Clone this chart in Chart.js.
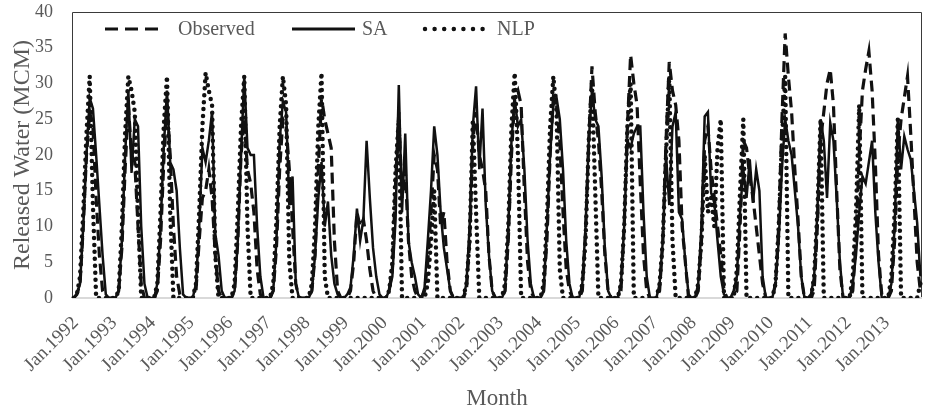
<!DOCTYPE html>
<html>
<head>
<meta charset="utf-8">
<script src="https://cdn.jsdelivr.net/npm/chart.js@4.4.1/dist/chart.umd.min.js"></script>
<style>
  html, body { margin: 0; padding: 0; background: #fff; }
  #wrap { width: 926px; height: 413px; position: relative; }
</style>
</head>
<body>
<div id="wrap"><canvas id="release-chart"></canvas></div>
<script>
// data (monthly releases, MCM)
const years = [1992, 1993, 1994, 1995, 1996, 1997, 1998, 1999, 2000, 2001, 2002,
  2003, 2004, 2005, 2006, 2007, 2008, 2009, 2010, 2011, 2012, 2013]
const monthNames = ['Jan', 'Feb', 'Mar', 'Apr', 'May', 'Jun', 'Jul', 'Aug', 'Sep', 'Oct', 'Nov', 'Dec']

const observed = [
  0, 0.5, 2, 10, 20, 26, 24, 14, 6, 1, 0, 0, // 1992
  0, 0, 1, 7, 18, 27, 20, 19, 10, 2, 0, 0, // 1993
  0, 0, 1, 8, 19, 27, 20, 10, 3, 0.5, 0, 0, // 1994
  0, 0, 1, 8, 14, 15, 18, 14, 6, 1, 0, 0, // 1995
  0, 0, 1, 8, 20, 25, 18, 16, 12, 4, 0.5, 0, // 1996
  0, 0, 1, 7, 18, 25, 24, 18, 10, 2, 0, 0, // 1997
  0, 0, 1, 6, 18, 28, 25, 23, 21, 8, 1, 0, // 1998
  0, 0, 1, 5, 12, 10, 11, 8, 4, 1, 0, 0, // 1999
  0, 0, 1, 4, 16, 26, 14, 18, 8, 3, 1, 0, // 2000
  0, 1, 5, 12, 20, 18, 10, 12, 5, 1, 0, 0, // 2001
  0, 0, 1, 8, 22, 26, 20, 18, 15, 6, 1, 0, // 2002
  0, 0, 1, 8, 20, 28, 29, 27, 15, 5, 1, 0, // 2003
  0, 0, 1, 8, 20, 28, 27, 22, 12, 4, 1, 0, // 2004
  0, 0, 1, 9, 22, 32.4, 26, 22, 15, 6, 1, 0, // 2005
  0, 0, 1, 10, 24, 34, 30, 27, 16, 6, 1, 0, // 2006
  0, 0, 1, 8, 22, 33, 29, 27, 22, 10, 5, 0, // 2007
  0, 0, 1, 8, 22, 24, 18, 14, 10, 6, 1, 0, // 2008
  0, 0, 1, 10, 22, 21, 17, 14, 10, 6, 2, 0, // 2009
  0, 0, 2, 10, 25, 37, 31, 26, 18, 11, 3, 0, // 2010
  0, 0, 1, 10, 22, 26, 30, 32, 27, 15, 4, 0, // 2011
  0, 0, 1, 8, 20, 29, 32, 34.5, 29, 19, 6, 0.5, // 2012
  0, 0, 1, 8, 20, 25, 28, 31, 23, 14, 5, 1, // 2013
]

const sa = [
  0, 0.5, 2, 10, 20, 28, 26.5, 20, 13, 6, 0.5, 0, // 1992
  0, 0, 1, 8, 20, 29, 17.5, 25, 24, 10, 2, 0, // 1993
  0, 0, 2, 10, 21, 29, 19, 18, 15, 7, 0.5, 0, // 1994
  0, 0, 2, 10, 21, 19, 22, 26, 9, 6, 1, 0, // 1995
  0, 0, 1, 8, 20, 31, 21, 20, 20, 10, 3, 0, // 1996
  0, 0, 1, 8, 22, 27.5, 26, 13, 17, 2, 0, 0, // 1997
  0, 0, 1, 6, 14, 19, 10, 13.5, 6, 2, 0.5, 0, // 1998
  0, 0.5, 1.5, 6, 12.5, 8, 11, 22, 14, 7, 3, 0.5, // 1999
  0, 0, 1, 3, 11, 29.8, 12, 23, 8, 5, 3, 0.5, // 2000
  0, 1.5, 8, 15, 24, 20, 12, 7, 4, 1, 0, 0, // 2001
  0, 0, 2, 10, 24, 29.6, 18, 26.5, 13, 6, 1, 0, // 2002
  0, 0, 1, 10, 22, 27.8, 24, 25, 18, 8, 2, 0, // 2003
  0, 0, 1, 10, 20, 27, 28, 25, 18, 8, 2, 0, // 2004
  0, 0, 2, 10, 22, 29, 25, 24, 17, 7, 1, 0, // 2005
  0, 0, 2, 10, 22, 21, 23, 24, 24, 12, 3, 0, // 2006
  0, 0, 2, 8, 20, 13, 24, 26, 12, 11, 5, 0.5, // 2007
  0, 0, 2, 10, 25.4, 26, 14.7, 13.3, 8, 3, 0.5, 0, // 2008
  0, 1, 3, 12, 18, 14, 19.4, 13.3, 18, 15, 3, 0, // 2009
  0, 0, 2, 8, 18, 25, 22, 20, 15, 10, 3, 0, // 2010
  0, 0.5, 3, 12, 25, 22, 14, 24.5, 22, 14, 5, 0, // 2011
  0, 0, 2, 6, 12, 17, 16, 19, 22, 12, 5, 0, // 2012
  0, 0, 2, 10, 25, 18, 22.6, 20.8, 19.4, 15, 10.5, 3, // 2013
]

const nlp = [
  0, 0.5, 3, 12, 23, 31, 13, 0, 0, 0, 0, 0, // 1992
  0, 0, 1, 10, 23, 31, 29, 26, 12, 0, 0, 0, // 1993
  0, 0, 2, 12, 24, 31, 12, 0, 0, 0, 0, 0, // 1994
  0, 0, 2, 12, 24, 31.5, 29, 27, 6, 0, 0, 0, // 1995
  0, 0, 2, 12, 24, 31, 10, 0, 0, 0, 0, 0, // 1996
  0, 0, 2, 11, 24, 31, 27, 5, 0, 0, 0, 0, // 1997
  0, 0, 2, 10, 24, 31.5, 3, 0, 0, 0, 0, 0, // 1998
  0, 0, 0, 0, 0, 0, 0, 0, 0, 0, 0, 0, // 1999
  0, 0, 1, 5, 18, 25, 0, 0, 0, 0, 0, 0, // 2000
  0, 0, 2, 8, 15, 0, 0, 0, 0, 0, 0, 0, // 2001
  0, 0, 2, 8, 25, 12, 0, 0, 0, 0, 0, 0, // 2002
  0, 0, 2, 10, 24, 31.5, 20, 0, 0, 0, 0, 0, // 2003
  0, 0, 2, 11, 24, 31, 26, 4, 0, 0, 0, 0, // 2004
  0, 0, 2, 8, 22, 30, 15, 0, 0, 0, 0, 0, // 2005
  0, 0, 2, 10, 24, 30, 0, 0, 0, 0, 0, 0, // 2006
  0, 0, 2, 8, 20, 31, 8, 0, 0, 0, 0, 0, // 2007
  0, 0, 2, 8, 20, 12, 14, 10, 21, 25, 0, 0, // 2008
  0, 0, 4, 15, 25, 0, 0, 0, 0, 0, 0, 0, // 2009
  0, 0, 2, 10, 22, 31, 0, 0, 0, 0, 0, 0, // 2010
  0, 0, 3, 12, 25, 0, 0, 0, 0, 0, 0, 0, // 2011
  0, 0, 3, 12, 27, 0, 0, 0, 0, 0, 0, 0, // 2012
  0, 0, 3, 12, 25, 0, 0, 0, 0, 0, 0, 2, // 2013
]

const seriesNames = ['Observed', 'SA', 'NLP']

// labels like Jan.1992
const monthLabels = []
years.forEach((y) => {
  monthNames.forEach((m) => monthLabels.push(`${m}.${y}`))
})

const fontFamily = "'Liberation Serif', 'Times New Roman', serif"
const textColor = '#595959'

// frame around the plot area, grey bottom axis
const plotFrame = {
  id: 'plotFrame',
  beforeDatasetsDraw(chart) {
    const { ctx, chartArea: a } = chart
    ctx.save()
    ctx.strokeStyle = '#3a3a3a'
    ctx.lineWidth = 1
    ctx.beginPath()
    ctx.moveTo(a.left + 0.5, a.bottom)
    ctx.lineTo(a.left + 0.5, a.top + 0.5)
    ctx.lineTo(a.right - 0.5, a.top + 0.5)
    ctx.lineTo(a.right - 0.5, a.bottom)
    ctx.stroke()
    ctx.strokeStyle = '#d9d9d9'
    ctx.lineWidth = 2
    ctx.beginPath()
    ctx.moveTo(a.left, a.bottom)
    ctx.lineTo(a.right, a.bottom)
    ctx.stroke()
    ctx.restore()
  },
}

// legend drawn inside the plot, along the top
const innerLegend = {
  id: 'innerLegend',
  afterDraw(chart) {
    const { ctx, chartArea: a } = chart
    const y = a.top + 17
    const items = [
      { x0: 33, x1: 86, tx: 106, dash: [13, 7], cap: 'butt', width: 3 },
      { x0: 220, x1: 283, tx: 290, dash: [], cap: 'butt', width: 3 },
      { x0: 353, x1: 413, tx: 425, dash: [0, 9.6], cap: 'round', width: 4.5 },
    ]
    ctx.save()
    items.forEach((it, i) => {
      ctx.strokeStyle = '#111'
      ctx.lineWidth = it.width
      ctx.lineCap = it.cap
      ctx.setLineDash(it.dash)
      ctx.beginPath()
      ctx.moveTo(a.left + it.x0, y)
      ctx.lineTo(a.left + it.x1, y)
      ctx.stroke()
      ctx.setLineDash([])
      ctx.fillStyle = textColor
      ctx.font = `20px ${fontFamily}`
      ctx.textBaseline = 'middle'
      ctx.textAlign = 'left'
      ctx.fillText(seriesNames[i], a.left + it.tx, y + 1)
    })
    ctx.restore()
  },
}

const releaseCtx = document.querySelector('#release-chart')
const releaseChart = new Chart(releaseCtx, {
  type: 'line',
  data: {
    labels: monthLabels,
    datasets: [
      {
        label: seriesNames[0],
        data: observed,
        borderColor: '#111',
        borderWidth: 3.2,
        borderDash: [11, 6],
        pointRadius: 0,
        tension: 0,
      },
      {
        label: seriesNames[1],
        data: sa,
        borderColor: '#111',
        borderWidth: 2.5,
        pointRadius: 0,
        tension: 0,
      },
      {
        label: seriesNames[2],
        data: nlp,
        borderColor: '#111',
        borderWidth: 4.5,
        borderDash: [0, 7],
        borderCapStyle: 'round',
        pointRadius: 0,
        tension: 0,
      },
    ],
  },
  options: {
    responsive: true,
    maintainAspectRatio: false,
    animation: false,
    layout: {
      padding: { top: 12, right: 4, left: 0, bottom: 0 },
    },
    plugins: {
      legend: { display: false },
      tooltip: { enabled: false },
    },
    scales: {
      x: {
        type: 'category',
        offset: true,
        grid: { display: false, drawTicks: false },
        border: { display: false },
        ticks: {
          autoSkip: false,
          minRotation: 45,
          maxRotation: 45,
          padding: 14,
          labelOffset: 2,
          color: textColor,
          font: { family: fontFamily, size: 19 },
          callback: function (value) {
            const label = this.getLabelForValue(value)
            return label.startsWith('Jan') ? label : ''
          },
        },
        title: {
          display: true,
          text: 'Month',
          color: textColor,
          font: { family: fontFamily, size: 23 },
          padding: { top: 0, bottom: 0 },
        },
        afterFit: (scale) => {
          scale.height = 115
          scale.paddingLeft = 0
          scale.paddingRight = 0
          scale.paddingTop = 0
          scale.paddingBottom = 0
        },
      },
      y: {
        min: 0,
        max: 40,
        grid: { display: false, drawTicks: false },
        border: { display: false },
        ticks: {
          stepSize: 5,
          padding: 19,
          color: textColor,
          font: { family: fontFamily, size: 18 },
        },
        title: {
          display: true,
          text: 'Released Water (MCM)',
          color: textColor,
          font: { family: fontFamily, size: 24 },
          padding: { top: 8, bottom: 0 },
        },
        afterFit: (scale) => {
          scale.width = 72
          scale.paddingTop = 0
          scale.paddingBottom = 0
        },
      },
    },
  },
  plugins: [plotFrame, innerLegend],
})
</script>
</body>
</html>
